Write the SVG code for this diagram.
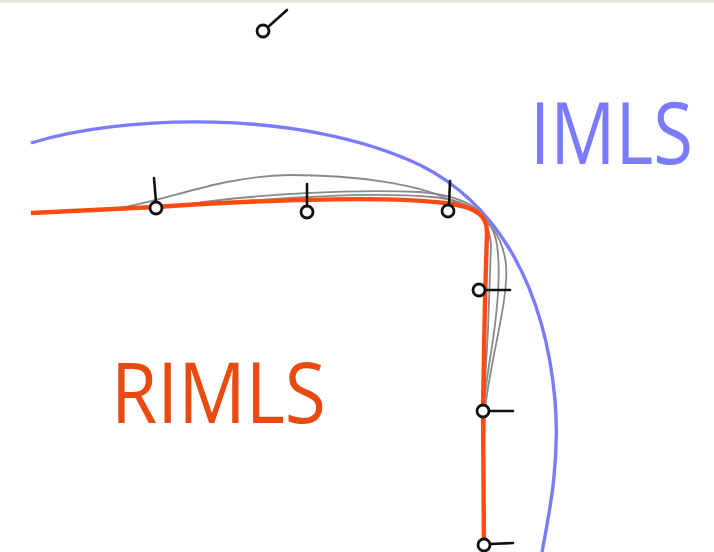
<svg xmlns="http://www.w3.org/2000/svg" width="714" height="552" viewBox="0 0 714 552">
<style>
.gray{fill:none;stroke:#8a8a8a;stroke-width:1.8}
.pt circle{fill:#fff;stroke:#111;stroke-width:2.8}
.pt line{stroke:#111;stroke-width:2.6;stroke-linecap:round}
.lbl{font-family:"Open Sans","DejaVu Sans",sans-serif}
</style>
<rect x="0" y="0" width="714" height="552" fill="#fff"/>
<rect x="0" y="0" width="714" height="2.5" fill="#e4e4da"/>
<g id="connectors">
<path id="blue" d="M31,143 C120,115 300,108 420,165 C500,205 545,290 555,400 C560,460 550,510 542,552" fill="none" stroke="#7b7bff" stroke-width="3.4"/>
<path class="gray" d="M120,208 C170,200 220,176 290,175 C360,175 420,185 450,200 C488,215 503,235 506,265 C509,300 490,360 485,410 L484,450"/>
<path class="gray" d="M190,204 C260,194 350,189 420,192 C472,196 492,215 497,245 C502,280 495,330 489,365 C486,385 484,400 483,420"/>
<path class="gray" d="M210,204 C300,196 380,192 432,197 C476,201 489,218 491,245 L488,330 L484,400"/>
<path id="red" d="M31,213 L155,207 C250,201 380,195 445,203 C476,207 487,214 487,232 L485,300 L483,410 L484,552" fill="none" stroke="#ff4a12" stroke-width="4.4" stroke-linejoin="round"/>
</g>
<g id="p1" class="pt"><line x1="268" y1="27" x2="287" y2="10"/><circle cx="263" cy="31" r="6"/></g>
<g id="p2" class="pt"><line x1="156" y1="202" x2="154" y2="178"/><circle cx="156" cy="208" r="6"/></g>
<g id="p3" class="pt"><line x1="307" y1="206" x2="307" y2="184"/><circle cx="307" cy="212" r="6"/></g>
<g id="p4" class="pt"><line x1="449" y1="206" x2="450" y2="181"/><circle cx="448" cy="211" r="6"/></g>
<g id="p5" class="pt"><line x1="485" y1="290" x2="510" y2="290"/><circle cx="479" cy="290" r="6"/></g>
<g id="p6" class="pt"><line x1="489" y1="411" x2="513" y2="411"/><circle cx="483" cy="411" r="6"/></g>
<g id="p7" class="pt"><line x1="490" y1="544" x2="513" y2="543"/><circle cx="484" cy="545" r="6"/></g>
<g id="label-imls" transform="translate(530,164) scale(1,1.19)"><text class="lbl" x="0" y="0" font-size="72" fill="#7b7bff" textLength="163" lengthAdjust="spacingAndGlyphs">IMLS</text></g>
<g id="label-rimls"><text class="lbl" x="111" y="423" font-size="85" fill="#e84a10" textLength="215" lengthAdjust="spacingAndGlyphs">RIMLS</text></g>
</svg>
